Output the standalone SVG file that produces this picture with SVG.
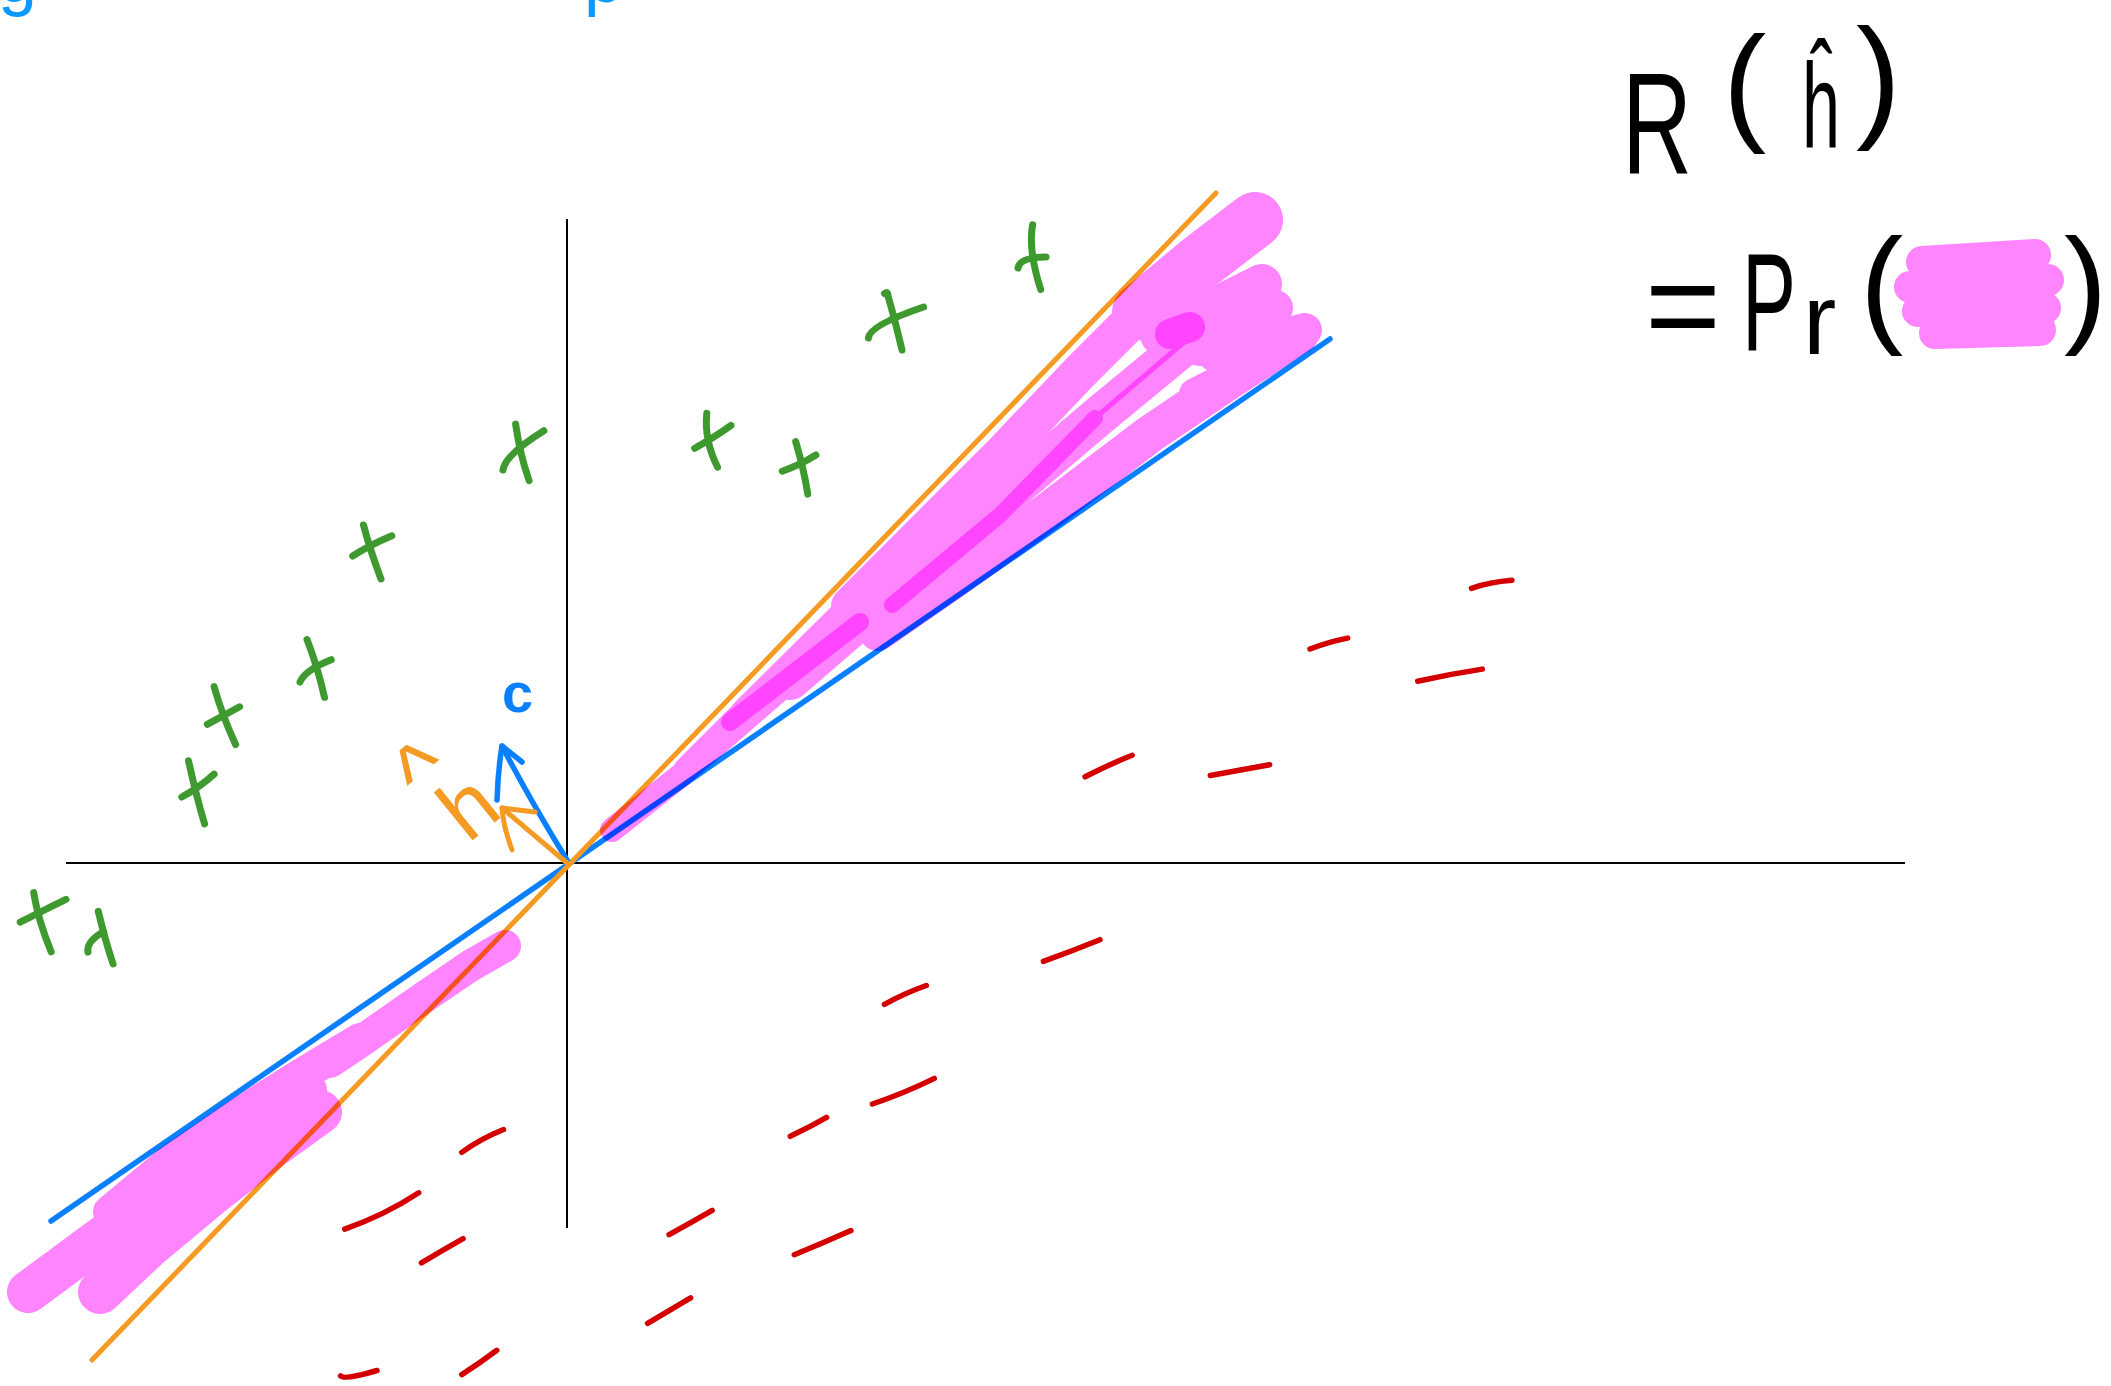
<svg xmlns="http://www.w3.org/2000/svg" width="2111" height="1386" viewBox="0 0 2111 1386">
<style>
.ax{stroke:#000;stroke-width:2;fill:none}
.bl{stroke:#0a80ff;stroke-width:5.5;fill:none;stroke-linecap:round;stroke-linejoin:round}
.or{stroke:#f59a23;stroke-width:5;fill:none;stroke-linecap:round;stroke-linejoin:round}
.rd{stroke:#d40000;stroke-width:5.5;fill:none;stroke-linecap:round}
.gr{stroke:#3e9a2e;stroke-width:7;fill:none;stroke-linecap:round;stroke-linejoin:round}
.pg{mix-blend-mode:multiply}
.pk{stroke:#ff85ff;fill:none;stroke-linecap:round;stroke-linejoin:round}
.dk{stroke:#ff45ff;fill:none;stroke-linecap:round;stroke-linejoin:round}
.fm{font-family:"Liberation Sans",Arial,sans-serif;fill:#000}
</style>
<rect width="2111" height="1386" fill="#fff"/>
<g id="top-text" font-family="Liberation Sans, Arial, sans-serif" font-size="70" fill="#0a99ff">
<text x="-2" y="2">g</text>
<text x="584" y="2">p</text>
</g>
<g id="axes">
<line class="ax" x1="66" y1="863" x2="1905" y2="863"/>
<line class="ax" x1="567" y1="219" x2="567" y2="1228"/>
</g>
<g id="lines">
<line class="bl" x1="51" y1="1221" x2="1330" y2="339"/>
<line class="or" x1="92" y1="1360" x2="1216" y2="193"/>
</g>
<g id="red-dashes" class="rd">
<path d="M1471.5 588.3 Q1490 582 1511.9 580.3"/>
<path d="M1310 649 Q1328 642 1347.6 638.1"/>
<path d="M1417.7 681.2 Q1450 674 1482.3 669.1"/>
<path d="M1085.1 776.8 Q1110 764 1132.2 755.3"/>
<path d="M1210.3 775.5 Q1240 770 1269.6 764.7"/>
<path d="M1043.4 961.3 Q1072 951 1099.9 939.7"/>
<path d="M884.5 1004.3 Q905 993 926.3 985.5"/>
<path d="M872.4 1104 Q905 1093 934.3 1078.4"/>
<path d="M790.3 1136.3 Q810 1127 826.6 1117.4"/>
<path d="M461.8 1152.4 Q480 1139 503.5 1129.5"/>
<path d="M344.7 1229.2 Q385 1215 418.7 1192.8"/>
<path d="M421.4 1262.8 Q443 1250 463.1 1238.6"/>
<path d="M669.1 1234.6 Q692 1222 712.2 1210.3"/>
<path d="M794.3 1254.7 Q823 1243 850.9 1230.5"/>
<path d="M647.6 1323.4 Q670 1310 690.6 1297.8"/>
<path d="M340.6 1375.9 Q345 1380 377 1370.5"/>
<path d="M461.8 1374.6 Q480 1363 496.8 1350.3"/>
</g>
<g id="green-crosses" class="gr">
<path d="M1032.6 224.8 Q1028 250 1040.7 289.5 M1018 268 Q1020 257 1046.1 257.1"/>
<path d="M884.5 293.5 Q888 291 888 296 Q895 320 902 350 M868.4 338 Q870 325 923.6 307"/>
<path d="M706.8 413.3 Q704 440 717.6 467.2 M694.7 448.3 Q715 437 731 425.4"/>
<path d="M795.7 441.6 Q804 470 807.8 494.1 M782.2 471.2 Q800 465 815.9 455"/>
<path d="M515.6 424.1 Q520 455 529.1 480.6 M503 470 Q505 455 543.9 430.8"/>
<path d="M363.5 525 Q370 550 381 578.9 M352.7 556 Q370 545 391.8 535.8"/>
<path d="M307 639.5 Q318 668 324.5 697.4 M300 682 Q305 670 331.2 659.7"/>
<path d="M214.1 686.6 Q222 715 235.6 744.5 M207.3 724.3 Q225 715 239.6 706.8"/>
<path d="M188.5 760.7 Q196 795 204.6 823.9 M181.8 797 Q200 787 214.1 774.1"/>
<path d="M33.7 892.6 Q38 920 51.2 951.8 M20.2 922.2 Q40 912 66 899.3"/>
<path d="M98.3 911.4 Q105 940 113.1 964 M88 952 Q86 942 103.7 931.6"/>
</g>
<g id="pink-scribble" class="pg">
<path class="pk" stroke-width="20" d="M684 768 L760 692"/>
<path class="pk" stroke-width="28" d="M745 712 L850 608"/>
<path class="pk" stroke-width="38" d="M850 606 L920 536 L1000 456 L1080 372 L1140 312"/>
<path class="pk" stroke-width="24" d="M612 830 L680 776 L800 672"/>
<path class="pk" stroke-width="40" d="M790 680 L900 585 L1000 500 L1100 415 L1185 345"/>
<path class="pk" stroke-width="38" d="M878 632 L950 582 L1050 510 L1150 434 L1230 380 L1300 334"/>
<path class="pk" stroke-width="56" d="M1140 312 L1200 262 L1255 220"/>
<path class="pk" stroke-width="40" d="M1160 335 L1262 284"/>
<path class="pk" stroke-width="36" d="M1200 348 L1275 308"/>
<path class="pk" stroke-width="34" d="M1215 355 L1305 330"/>
<path class="pk" stroke-width="32" d="M1195 394 L1255 364"/>
<path class="dk" stroke-width="18" d="M730 722 L860 622"/>
<path class="dk" stroke-width="16" d="M892 605 L1000 515 L1095 418"/>
<path class="dk" stroke-width="5" d="M1095 418 L1183 343"/>
<path class="dk" stroke-width="30" d="M1170 334 L1190 327"/>
<path class="pk" stroke-width="42" d="M28 1292 L85 1250 L150 1202 L220 1152 L290 1102"/>
<path class="pk" stroke-width="34" d="M110 1212 L170 1162 L240 1114 L300 1076 L360 1040"/>
<path class="pk" stroke-width="32" d="M330 1062 L360 1042 L420 1000 L470 966 L505 946"/>
<path class="pk" stroke-width="44" d="M100 1292 L150 1245 L210 1195 L270 1148 L320 1112"/>
<path class="pk" stroke-width="34" d="M175 1190 L250 1132 L310 1090"/>
</g>
<g id="vector-c">
<path class="bl" stroke-width="7" d="M567 860 Q530 800 502 746"/>
<path class="bl" stroke-width="7" d="M497 800 Q498 770 502 746 L522 762"/>
<text x="502" y="712" font-family="Liberation Sans, Arial, sans-serif" font-weight="bold" font-size="56" fill="#0a80ff">c</text>
</g>
<g id="vector-h">
<path class="or" stroke-width="6" d="M567 863 L502 808"/>
<path class="or" stroke-width="6" d="M512 850 Q503 825 502 808 L535 812"/>
<g transform="translate(468,844) rotate(-39)" font-family="Liberation Sans, Arial, sans-serif" fill="#f59a23">
<text x="0" y="0" font-size="85">h</text>
<text x="-11" y="-54" font-size="90">^</text>
</g>
</g>
<g id="formula">
<text class="fm"><tspan x="1622" y="173" font-size="145" textLength="70" lengthAdjust="spacingAndGlyphs">R</tspan><tspan x="1723" y="127" font-size="130">(</tspan><tspan x="1802" y="147" font-size="120" textLength="38" lengthAdjust="spacingAndGlyphs">ĥ</tspan><tspan x="1856" y="123" font-size="135">)</tspan></text>
<text class="fm"><tspan x="1645" y="350" font-size="130">=</tspan><tspan x="1742" y="350" font-size="140" textLength="54" lengthAdjust="spacingAndGlyphs">P</tspan><tspan x="1803" y="354" font-size="100">r</tspan><tspan x="1860" y="329" font-size="130">(</tspan></text>
<g class="pg"><path class="pk" stroke-width="32" d="M1922 262 L2035 255 M1910 287 L2048 280 M1918 311 L2045 308 M1935 333 L2040 330"/></g>
<text class="fm" x="2064" y="329" font-size="130">)</text>
</g>
</svg>
